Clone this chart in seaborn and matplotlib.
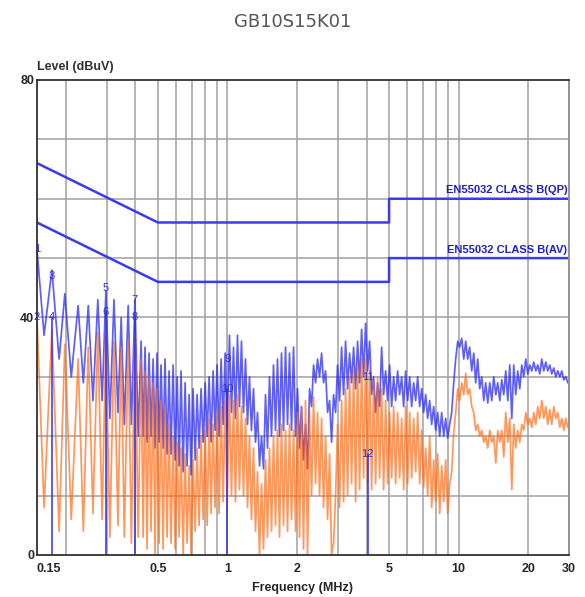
import matplotlib
matplotlib.use("Agg")
import matplotlib.pyplot as plt
import seaborn as sns
from matplotlib.ticker import FixedLocator, NullLocator

# measured spectrum (MHz / dBuV), same frequency points for both detectors
freq_mhz = [
    0.150, 0.161, 0.174, 0.187, 0.198, 0.211, 0.226, 0.238, 0.250, 0.262,
    0.275, 0.287, 0.298, 0.310, 0.323, 0.336, 0.347, 0.358, 0.372, 0.384,
    0.398, 0.411,
    0.423, 0.432, 0.440, 0.449, 0.458, 0.467, 0.477, 0.486, 0.496, 0.506,
    0.516, 0.527, 0.537, 0.548, 0.559, 0.570, 0.582, 0.594, 0.606, 0.618,
    0.630, 0.643, 0.656, 0.669, 0.683, 0.696, 0.710, 0.725, 0.739, 0.754,
    0.769, 0.785, 0.801, 0.817, 0.833, 0.850, 0.867, 0.884, 0.902, 0.920,
    0.939, 0.958, 0.977, 0.997, 1.020, 1.041, 1.062, 1.083, 1.105, 1.127,
    1.150, 1.173, 1.197, 1.221, 1.245, 1.270, 1.296, 1.322, 1.349, 1.376,
    1.404, 1.432, 1.461, 1.490, 1.520, 1.551, 1.582, 1.614, 1.646, 1.679,
    1.713, 1.748, 1.783, 1.819, 1.855, 1.893, 1.931, 1.970, 2.010, 2.050,
    2.091, 2.133, 2.176, 2.220, 2.265, 2.311, 2.357, 2.405, 2.453, 2.502,
    2.553, 2.604, 2.657, 2.710, 2.765, 2.820, 2.877, 2.935, 2.994, 3.055,
    3.116, 3.179, 3.243, 3.308, 3.375, 3.443, 3.512, 3.583, 3.655, 3.729,
    3.804, 3.880, 3.958, 4.038, 4.119, 4.202, 4.287, 4.373, 4.461, 4.551,
    4.643, 4.736, 4.832, 4.929, 5.028, 5.130, 5.233, 5.338, 5.446, 5.556,
    5.667, 5.782, 5.898, 6.017, 6.138, 6.262, 6.388, 6.516, 6.648, 6.781,
    6.918, 7.057, 7.199, 7.344, 7.492, 7.643, 7.797, 7.954, 8.114, 8.278,
    8.445, 8.615, 8.788, 8.965, 9.146, 9.330, 9.518, 9.709, 9.905, 10.10,
    10.31, 10.52, 10.73, 10.94, 11.16, 11.39, 11.62, 11.85, 12.09, 12.33,
    12.58, 12.84, 13.09, 13.36, 13.63, 13.90, 14.18, 14.47, 14.76, 15.06,
    15.36, 15.67, 15.98, 16.31, 16.63, 16.97, 17.31, 17.66, 18.01, 18.38,
    18.75, 19.12, 19.51, 19.90, 20.30, 20.71, 21.13, 21.56, 21.99, 22.43,
    22.88, 23.34, 23.81, 24.29, 24.78, 25.28, 25.79, 26.31, 26.84, 27.38,
    27.93, 28.50, 29.07, 29.65, 30.00,
]
qp_dbuv = [
    51.5, 37, 48, 33, 44, 30, 42, 29, 42, 26,
    43, 26, 44.5, 23, 43, 24, 40, 22, 42, 22,
    43, 20,
    36, 20, 35, 19, 34, 20, 33, 18, 34, 19,
    32, 18, 33, 17, 31, 17, 32, 16, 30, 15,
    31, 14, 29, 15, 27, 13.5, 28, 16, 27, 18,
    28, 19, 29, 20, 30, 19, 31, 21, 32, 20,
    33, 22, 34, 21, 37, 24, 35, 23, 37, 25,
    36, 24, 33, 22, 30, 21, 28, 19, 24, 15,
    20, 14.5, 27, 18, 30, 20, 32, 21, 33, 20,
    34, 21, 35, 22, 34, 21, 35, 20, 28, 18,
    25, 16, 22, 14.5, 28, 25, 32, 29, 33, 30,
    34, 29, 31, 24, 26, 19, 27, 24, 32, 26,
    35, 27, 36, 28, 34, 29, 35, 28, 36, 29,
    38, 30, 39, 31, 36, 27, 30, 24, 29, 25,
    35, 27, 31, 26, 32, 25, 30, 26, 31, 27,
    30, 25, 31, 26, 30, 25, 29, 26, 30, 25,
    28, 24, 27, 23, 26, 22, 25, 21, 24, 20,
    24, 20, 23, 19.7, 22, 24, 29, 33, 36, 35,
    36.5, 33, 36, 33, 35, 31, 34, 29, 33, 28,
    30, 26, 29, 25.6, 29, 26, 30, 27, 29, 26,
    29.5, 27, 31, 26, 32, 23, 32, 27, 31, 28,
    32, 30, 33, 30.5, 32, 31, 32.5, 31, 32, 30.5,
    33, 31, 32.5, 31, 32, 30.5, 31.5, 30, 31, 30,
    31, 29.5, 30, 29, 29,
]
av_dbuv = [
    40, 8, 38, 4, 35.5, 6, 33, 4, 35, 7,
    37.5, 6, 37, 3, 36, 5, 35, 3, 36, 2,
    37, 3,
    33, 3, 31, 1, 30, 4, 29, 0, 28, 2,
    26, 1, 25, 3, 22, 2, 20, 1, 19, 3,
    18, 0, 17, 2, 15, 0, 16, 4, 18, 5,
    20, 6, 21, 5, 23, 7, 22, 8, 24, 7,
    25, 9, 26, 8, 27, 10, 26, 9, 27, 11,
    25, 10, 23, 8, 20, 6, 18, 4, 14, 0,
    12, 1, 16, 3, 18, 4, 20, 5, 21, 3,
    22, 5, 21, 4, 22, 6, 21, 4, 24, 3,
    25, 1, 26, 0, 24, 10, 26.6, 12, 24, 10,
    23, 8, 20, 6, 17, 0, 2, 10, 22, 8,
    26, 9, 28, 10, 30, 12, 31, 9, 32, 11,
    33, 13, 33, 12, 31, 11, 29, 12, 30, 13,
    28, 11, 26, 12, 24, 13, 25, 12, 24, 13,
    23, 11, 25, 12, 24, 13, 23, 14, 24, 12,
    21, 11.5, 18, 10, 20, 8, 16, 9, 17, 7,
    15, 9, 16, 7, 12, 14, 20.5, 24, 28, 26,
    29, 27, 30.6, 27, 28, 25, 24, 21, 22, 20,
    21, 19, 20, 18, 21, 19, 20, 15.5, 21, 19,
    21, 16.5, 24, 19, 23, 11, 22, 18, 21, 19,
    22, 21, 24, 22, 23, 21.5, 24, 22, 25, 23,
    26, 23, 25, 22, 24.5, 22, 25, 23, 24, 21.5,
    23, 21, 23, 21.5, 22,
]

# EN55032 class B limit lines
limit_freq = [0.15, 0.5, 5, 5, 30]
qp_limit = [66, 56, 56, 60, 60]
av_limit = [56, 46, 46, 50, 50]

# marker table
marker_freq = [0.150, 0.150, 0.174, 0.174, 0.298, 0.298, 0.398, 0.398, 0.997, 0.997, 4.04, 4.04]
marker_level = [51.5, 40, 47, 40, 45, 41, 43, 40, 33, 28, 30, 17]
marker_text = ["1", "2", "3", "4", "5", "6", "7", "8", "9", "10", "11", "12"]

x_ticks = [0.15, 0.5, 1, 2, 5, 10, 20, 30]
x_tick_labels = ["0.15", "0.5", "1", "2", "5", "10", "20", "30"]
x_grid = [0.2, 0.3, 0.4, 0.5, 0.6, 0.7, 0.8, 0.9, 1, 2, 3, 4, 5, 6, 7, 8, 9, 10, 20, 30]

sns.set_theme(style="white")
plt.rcParams["font.family"] = ["Liberation Sans Narrow", "Liberation Sans", "DejaVu Sans"]

fig = plt.figure(figsize=(5.85, 5.97), dpi=100)
ax = fig.add_axes([0.0632, 0.0704, 0.9094, 0.7956])

blue = "#2a2af2"
orange = "#ff6a14"

sns.lineplot(x=freq_mhz, y=qp_dbuv, ax=ax, color=blue, lw=1.25, alpha=0.75,
             estimator=None, sort=False)
sns.lineplot(x=freq_mhz, y=av_dbuv, ax=ax, color=orange, lw=1.25, alpha=0.7,
             estimator=None, sort=False)
sns.lineplot(x=limit_freq, y=qp_limit, ax=ax, color="#3a3af0", lw=1.8,
             estimator=None, sort=False)
sns.lineplot(x=limit_freq, y=av_limit, ax=ax, color="#3a3af0", lw=1.8,
             estimator=None, sort=False)

# marker lines and numbers
for i in range(0, len(marker_freq), 2):
    if marker_freq[i] > 0.16:
        ax.plot([marker_freq[i], marker_freq[i]], [0, marker_level[i + 1]],
                color="#3030ee", lw=1.1)
for f, lv, t in zip(marker_freq, marker_level, marker_text):
    ax.text(f, lv, t, color="#3030d0", fontsize=8, ha="center", va="center")

ax.text(29.5, 60.6, "EN55032 CLASS B(QP)", color="#2020c0", fontsize=8,
        fontweight="bold", ha="right", va="bottom")
ax.text(29.5, 50.6, "EN55032 CLASS B(AV)", color="#2020c0", fontsize=8,
        fontweight="bold", ha="right", va="bottom")

ax.set_xscale("log")
ax.set_xlim(0.15, 30)
ax.set_ylim(0, 80)

ax.xaxis.set_major_locator(FixedLocator(x_ticks))
ax.xaxis.set_minor_locator(NullLocator())
ax.set_xticklabels(x_tick_labels, fontweight="bold", fontsize=9)
ax.get_xticklabels()[0].set_horizontalalignment("left")
ax.set_yticks([0, 40, 80])
ax.set_yticklabels(["0", "40", "80"], fontweight="bold", fontsize=9)
ax.tick_params(axis="x", length=0, pad=6)
ax.tick_params(axis="y", length=0, pad=2)

for g in x_grid:
    ax.axvline(g, color="#a0a0a0", lw=1.1, zorder=0)
for g in range(10, 80, 10):
    ax.axhline(g, color="#a0a0a0", lw=1.1, zorder=0)

for side in ["left", "bottom", "top", "right"]:
    ax.spines[side].set_color("#303030")
    ax.spines[side].set_linewidth(1.3)
ax.spines["right"].set_color("#909090")

ax.set_xlabel("Frequency (MHz)", fontweight="bold", fontsize=9, labelpad=5)
ax.set_ylabel("")
fig.text(0.0632, 0.878, "Level (dBuV)", fontweight="bold", fontsize=9,
         ha="left", va="bottom", color="#303030")
fig.text(0.5, 0.963, "GB10S15K01", fontsize=13, color="#555555",
         ha="center", va="center", family=["DejaVu Sans"])

fig.savefig("out.png", dpi=100)
